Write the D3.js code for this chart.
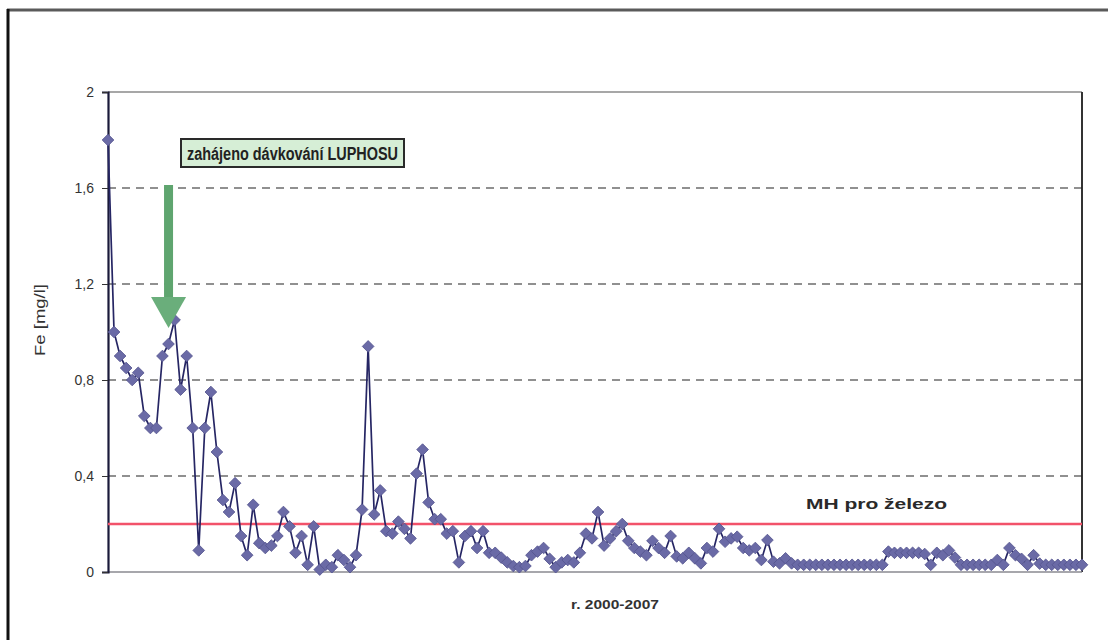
<!DOCTYPE html>
<html>
<head>
<meta charset="utf-8">
<script src="https://cdn.jsdelivr.net/npm/d3@7"></script>
<style>
  body { margin: 0; background: #fff; }
  svg { display: block; font-family: Arial, "Liberation Sans", sans-serif; }
</style>
</head>
<body>
<div id="chart"></div>
<script>
// Fe concentration, samples 2000-2007
var feValues = [
  1.8, 1.0, 0.9, 0.85, 0.8, 0.83, 0.65, 0.6, 0.6, 0.9,
  0.95, 1.05, 0.76, 0.9, 0.6, 0.09, 0.6, 0.75, 0.5, 0.3,
  0.25, 0.37, 0.15, 0.07, 0.28, 0.12, 0.1, 0.11, 0.15, 0.25,
  0.19, 0.08, 0.15, 0.03, 0.19, 0.01, 0.03, 0.02, 0.07, 0.05,
  0.02, 0.07, 0.26, 0.94, 0.24, 0.34, 0.17, 0.16, 0.21, 0.18,
  0.14, 0.41, 0.51, 0.29, 0.22, 0.22, 0.16, 0.17, 0.04, 0.15,
  0.17, 0.1, 0.17, 0.08, 0.08, 0.06, 0.04, 0.025, 0.02, 0.025,
  0.07, 0.085, 0.1, 0.055, 0.02, 0.04, 0.05, 0.04, 0.08, 0.16,
  0.14, 0.25, 0.11, 0.14, 0.17, 0.2, 0.13, 0.1, 0.085, 0.07,
  0.13, 0.1, 0.08, 0.15, 0.065, 0.057, 0.08, 0.057, 0.036, 0.1,
  0.085, 0.18, 0.126, 0.14, 0.147, 0.1, 0.09, 0.1, 0.05, 0.133,
  0.043, 0.036, 0.057, 0.036, 0.03, 0.03, 0.03, 0.03, 0.03, 0.03,
  0.03, 0.03, 0.03, 0.03, 0.03, 0.03, 0.03, 0.03, 0.03, 0.085,
  0.08, 0.08, 0.08, 0.08, 0.08, 0.075, 0.03, 0.08, 0.07, 0.09,
  0.06, 0.03, 0.03, 0.03, 0.03, 0.03, 0.03, 0.05, 0.03, 0.1,
  0.07, 0.055, 0.03, 0.07, 0.035, 0.03, 0.03, 0.03, 0.03, 0.03,
  0.03, 0.03
];
var yTicks = [0, 0.4, 0.8, 1.2, 1.6, 2];
var gridTicks = [0.4, 0.8, 1.2, 1.6];
var limitValue = 0.2;      // MH pro železo
var startIndex = 11;       // zahájeno dávkování

var W = 1108, H = 640;
var plot = { l: 108, r: 1082, t: 92, b: 572 };

var svg = d3.select("#chart").append("svg")
  .attr("width", W)
  .attr("height", H);

// outer frame (top + left edge of the scanned figure)
svg.append("line")
  .attr("x1", 7).attr("x2", W).attr("y1", 10).attr("y2", 10)
  .attr("stroke", "#5a5a5a").attr("stroke-width", 3);
svg.append("line")
  .attr("x1", 8).attr("x2", 8).attr("y1", 9).attr("y2", H)
  .attr("stroke", "#111").attr("stroke-width", 3);

var x = d3.scaleLinear()
  .domain([0, feValues.length - 1])
  .range([plot.l, plot.r]);

var y = d3.scaleLinear()
  .domain([0, 2])
  .range([plot.b, plot.t]);

// plot area border
svg.append("line")
  .attr("x1", plot.l).attr("x2", plot.r).attr("y1", plot.t).attr("y2", plot.t)
  .attr("stroke", "#8a8a8a").attr("stroke-width", 1.5);
svg.append("line")
  .attr("x1", plot.r).attr("x2", plot.r).attr("y1", plot.t).attr("y2", plot.b)
  .attr("stroke", "#333").attr("stroke-width", 2);
svg.append("line")
  .attr("x1", plot.l).attr("x2", plot.r).attr("y1", plot.b).attr("y2", plot.b)
  .attr("stroke", "#8a8a90").attr("stroke-width", 1.5);

// dashed gridlines
svg.append("g").selectAll("line")
  .data(gridTicks)
  .enter().append("line")
  .attr("x1", plot.l).attr("x2", plot.r)
  .attr("y1", function(d) { return y(d); })
  .attr("y2", function(d) { return y(d); })
  .attr("stroke", "#222")
  .attr("stroke-width", 1.2)
  .attr("stroke-dasharray", "8,6");

// y axis
var yAxis = d3.axisLeft(y)
  .tickValues(yTicks)
  .tickSize(6)
  .tickPadding(8)
  .tickFormat(function(d) { return d3.format("")(d).replace(".", ","); });

var gy = svg.append("g")
  .attr("transform", "translate(" + plot.l + ",0)")
  .call(yAxis);
gy.select(".domain").attr("stroke", "#1a1a3a").attr("stroke-width", 2.2);
gy.selectAll(".tick line").attr("stroke", "#333");
gy.selectAll(".tick text")
  .attr("fill", "#333")
  .style("font-size", "14px")
  .style("font-family", "Arial, 'Liberation Sans', sans-serif");

svg.append("text")
  .attr("transform", "translate(45," + 320 + ") rotate(-90)")
  .attr("text-anchor", "middle")
  .attr("textLength", 72)
  .attr("lengthAdjust", "spacingAndGlyphs")
  .style("font-size", "14px")
  .attr("fill", "#333")
  .text("Fe [mg/l]");

svg.append("text")
  .attr("x", (plot.l + plot.r) / 2 + 20)
  .attr("y", 609)
  .attr("text-anchor", "middle")
  .attr("textLength", 88)
  .attr("lengthAdjust", "spacingAndGlyphs")
  .style("font-size", "13px")
  .style("font-weight", "bold")
  .attr("fill", "#333")
  .text("r. 2000-2007");

// limit line
svg.append("line")
  .attr("x1", plot.l).attr("x2", plot.r)
  .attr("y1", y(limitValue)).attr("y2", y(limitValue))
  .attr("stroke", "#f2526a")
  .attr("stroke-width", 2.5);

svg.append("text")
  .attr("x", 806)
  .attr("y", 509)
  .attr("textLength", 141)
  .attr("lengthAdjust", "spacingAndGlyphs")
  .style("font-size", "15px")
  .style("font-weight", "bold")
  .attr("fill", "#2a2a2a")
  .text("MH pro železo");

// series line + diamond markers
var line = d3.line()
  .x(function(d, i) { return x(i); })
  .y(function(d) { return y(d); });

svg.append("path")
  .datum(feValues)
  .attr("d", line)
  .attr("fill", "none")
  .attr("stroke", "#262664")
  .attr("stroke-width", 1.7);

var diamond = d3.symbol().type(d3.symbolSquare).size(68);

svg.append("g").selectAll("path")
  .data(feValues)
  .enter().append("path")
  .attr("d", diamond)
  .attr("transform", function(d, i) {
    return "translate(" + x(i) + "," + y(d) + ") rotate(45)";
  })
  .attr("fill", "#6a6aa6")
  .attr("stroke", "#55558f")
  .attr("stroke-width", 0.8);

// annotation: start of dosing
var arrowX = x(startIndex) - 6;
var arrowColor = "#5fa56f";
svg.append("rect")
  .attr("x", arrowX - 4.5).attr("y", 185)
  .attr("width", 9).attr("height", 113)
  .attr("fill", arrowColor);
svg.append("path")
  .attr("d", "M" + (arrowX - 17.5) + ",297 L" + (arrowX + 17.5) + ",297 L" + arrowX + ",328 Z")
  .attr("fill", "#6aae7b");

svg.append("rect")
  .attr("x", 181).attr("y", 139)
  .attr("width", 223).attr("height", 28)
  .attr("fill", "#d6eed6")
  .attr("stroke", "#2a2a2a")
  .attr("stroke-width", 2);

svg.append("text")
  .attr("x", 187)
  .attr("y", 160)
  .attr("textLength", 211)
  .attr("lengthAdjust", "spacingAndGlyphs")
  .style("font-size", "17.5px")
  .style("font-weight", "bold")
  .attr("fill", "#222")
  .text("zahájeno dávkování LUPHOSU");
</script>
</body>
</html>
